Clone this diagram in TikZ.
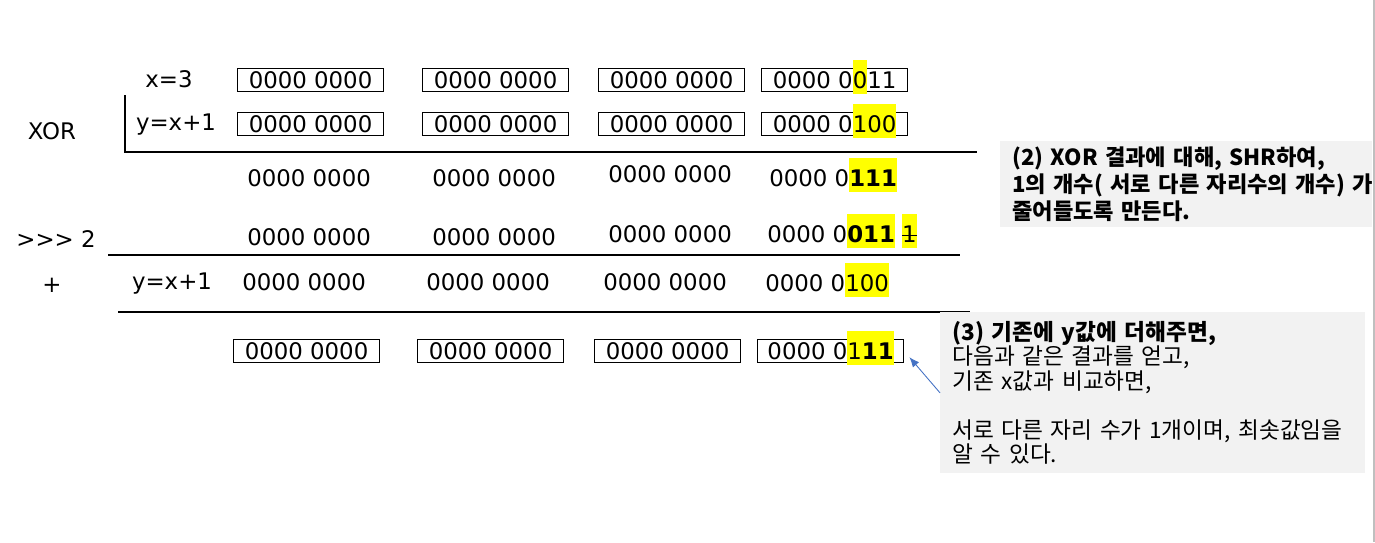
\documentclass[tikz,border=0pt]{standalone}
\usepackage{fontspec}
\setmainfont{DejaVu Sans}
\newfontfamily\krfont{Noto Sans CJK KR}
\usetikzlibrary{arrows.meta}
\definecolor{hlyellow}{HTML}{FFFF00}
\definecolor{notegray}{HTML}{F2F2F2}
\definecolor{arrowblue}{HTML}{4472C4}
\newcommand{\hilite}[1]{{\setlength{\fboxsep}{0pt}\colorbox{hlyellow}{\rule[-0.24em]{0pt}{1.49em}#1}}}
\newsavebox{\strikebox}
\newcommand{\strikeone}[1]{\sbox{\strikebox}{#1}\rlap{\usebox{\strikebox}}\rule[0.28em]{\wd\strikebox}{0.06em}}

\begin{document}
\begin{tikzpicture}[
      x=0.02cm,y=-0.02cm,
      cell/.style={draw,line width=0.7pt,anchor=north west,minimum width=2.92cm,inner xsep=0pt,inner ysep=0pt,text height=0.4cm,text depth=0.06cm,font=\fontsize{13}{15}\selectfont},
      bits/.style={anchor=west,inner sep=0pt,text height=0.333cm,text depth=0pt,font=\fontsize{13}{15}\selectfont},
      lbl/.style={inner sep=0pt,text height=0.333cm,text depth=0pt,font=\fontsize{13}{15}\selectfont},
      sumline/.style={line width=0.6pt},
      note/.style={fill=notegray,anchor=north west,align=left,inner xsep=0.24cm,inner ysep=0pt},
      arrow/.style={-{Latex[length=2mm,width=1.6mm]},draw=arrowblue,line width=0.5pt}
    ]
    \useasboundingbox (0,0) rectangle (1375,542);

    \node[lbl] (xlab) at (169,79) {x=3};
    \node[cell] (x1) at (237,68) {0000 0000};
    \node[cell] (x2) at (422,68) {0000 0000};
    \node[cell] (x3) at (598,68) {0000 0000};
    \node[cell] (x4) at (761,68) {0000 0\hilite{0}11};

    \node[lbl] (xor) at (52,131) {XOR};
    \node[lbl] (ylab) at (176,122) {y=x+1};
    \node[cell] (y1) at (237,112) {0000 0000};
    \node[cell] (y2) at (422,112) {0000 0000};
    \node[cell] (y3) at (598,112) {0000 0000};
    \node[cell] (y4) at (761,112) {0000 0\hilite{100}};
    \draw[sumline] (125,95) -- (125,152) -- (977,152);

    \node[bits] (r1) at (247,178) {0000 0000};
    \node[bits] (r2) at (432,178) {0000 0000};
    \node[bits] (r3) at (608,174) {0000 0000};
    \node[bits] (r4) at (769,178) {0000 0\hilite{\bfseries 111}};

    \node[lbl] (shr) at (56,239) {>{}>{}> 2};
    \node[bits] (s1) at (247,237) {0000 0000};
    \node[bits] (s2) at (432,237) {0000 0000};
    \node[bits] (s3) at (608,234) {0000 0000};
    \node[bits] (s4) at (767,234) {0000 0\hilite{\bfseries 011} \hilite{\strikeone{1}}};
    \draw[sumline] (108,255) -- (960,255);

    \node[lbl] (plus) at (52,284) {+};
    \node[lbl] (ylab2) at (172,281) {y=x+1};
    \node[bits] (p1) at (242,282) {0000 0000};
    \node[bits] (p2) at (426,282) {0000 0000};
    \node[bits] (p3) at (603,282) {0000 0000};
    \node[bits] (p4) at (765,283) {0000 0\hilite{100}};
    \draw[sumline] (118,312) -- (970,312);

    \node[cell] (z1) at (233,339) {0000 0000};
    \node[cell] (z2) at (417,339) {0000 0000};
    \node[cell] (z3) at (594,339) {0000 0000};
    \node[cell] (z4) at (757,339) {0000 0\hilite{1}\hilite{\bfseries 11}};

    \node[note,text width=6.96cm,minimum height=1.72cm,font=\krfont\bfseries\fontsize{12.6}{15.4}\selectfont] (note2) at (1000,141) {(2) XOR 결과에 대해, SHR하여,\\\mbox{1의 개수( 서로 다른 자리수의 개수) 가}\\줄어들도록 만든다.};
    \node[note,text width=8.02cm,minimum height=3.22cm,font=\krfont\fontsize{12.9}{13.9}\selectfont] (note3) at (940,312) {\textbf{(3) 기존에 y값에 더해주면,}\\다음과 같은 결과를 얻고,\\기존 x값과 비교하면,\\[13.9pt]서로 다른 자리 수가 1개이며, 최솟값임을\\알 수 있다.};
    \draw[arrow,shorten >=0.16cm] (note3.west) -- (z4.east);
    \draw[gray!50,line width=0.6pt] (1374,0) -- (1374,542);
  \end{tikzpicture}
\end{document}
